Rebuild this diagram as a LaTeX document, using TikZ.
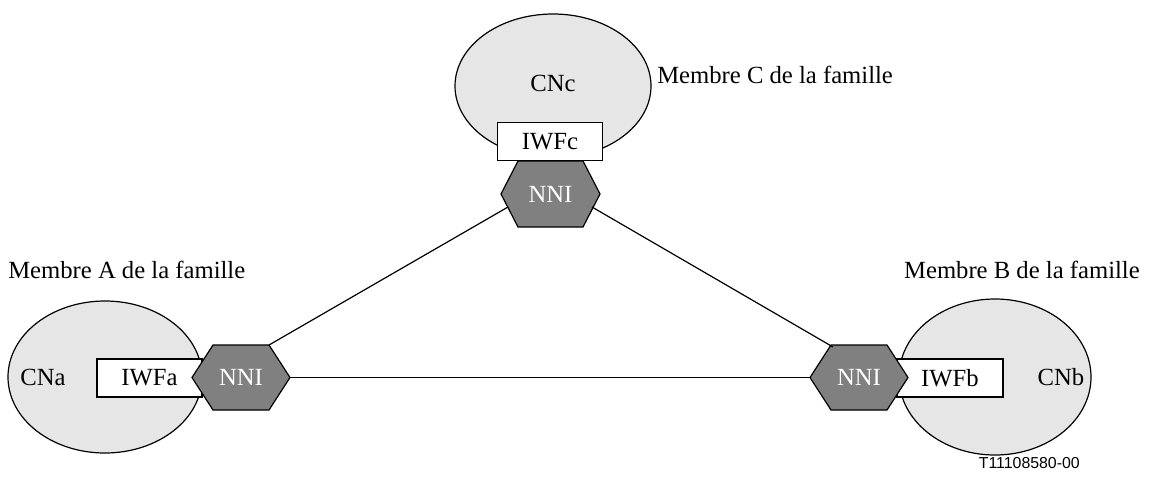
\documentclass[tikz,border=0pt]{standalone}
\usepackage{fontspec}
\setmainfont{Liberation Serif}
\newfontfamily\labsans{Liberation Sans}
\usetikzlibrary{shapes.geometric}
\definecolor{cloudgray}{HTML}{E6E6E6}
\definecolor{hexgray}{HTML}{808080}
\tikzset{
  cloud/.style={draw=black, line width=0.9pt, fill=cloudgray},
  iwf/.style={draw=black, line width=0.9pt, fill=white, minimum width=105*0.75pt, minimum height=38*0.75pt, inner sep=0pt},
  hexa/.style={draw=black, line width=0.9pt, fill=hexgray},
  lnk/.style={draw=black, line width=0.9pt},
  txt/.style={font=\fontsize{18.5}{22}\selectfont, inner sep=0pt},
  wtxt/.style={font=\fontsize{18.5}{22}\selectfont, text=white, inner sep=0pt},
}
\begin{document}
\begin{tikzpicture}[x=0.75pt,y=-0.75pt]
\useasboundingbox (0,0) rectangle (1149,483);
% clouds
\draw[cloud] (553,86) ellipse [x radius=98, y radius=72];
\draw[cloud] (105,377) ellipse [x radius=97, y radius=76];
\draw[cloud] (995,377) ellipse [x radius=96, y radius=78];
\node[txt] (cnc) at (553,83) {CNc};
\node[txt] (cna) at (43,377) {CNa};
\node[txt] (cnb) at (1061,377) {CNb};
% IWF boxes
\node[iwf, txt, minimum width=105*0.75pt, minimum height=38*0.75pt] (iwfc) at (550,141.5) {IWFc};
\node[iwf, txt, minimum width=105*0.75pt, minimum height=38*0.75pt] (iwfa) at (149.5,378) {IWFa};
\node[iwf, txt, minimum width=106*0.75pt, minimum height=38*0.75pt] (iwfb) at (950,378) {IWFb};
% hexagons
\draw[hexa] (501,194) -- (518,161) -- (583,161) -- (600,194) -- (583,227) -- (518,227) -- cycle;
\node[wtxt] (nnic) at (550.5,194) {NNI};
\draw[hexa] (192,377.5) -- (213,345) -- (269,345) -- (290,377.5) -- (269,410) -- (213,410) -- cycle;
\node[wtxt] (nnia) at (241,377.5) {NNI};
\draw[hexa] (810,377.5) -- (831,345) -- (887,345) -- (908,377.5) -- (887,410) -- (831,410) -- cycle;
\node[wtxt] (nnib) at (859,377.5) {NNI};
% links
\coordinate (ca) at (508,207);
\coordinate (cb) at (592,207);
\coordinate (ac) at (269,345);
\coordinate (bc) at (833,347);
\coordinate (ab) at (290,377.5);
\coordinate (ba) at (810,377.5);
\draw[lnk] (ac) -- (ca);
\draw[lnk] (cb) -- (bc);
\draw[lnk] (ab) -- (ba);
% labels
\node[txt, anchor=west] (memc) at (657,75) {Membre C de la famille};
\node[txt, anchor=west] (mema) at (8,270) {Membre A de la famille};
\node[txt, anchor=east] (memb) at (1140,270) {Membre B de la famille};
\node[font=\labsans\fontsize{11.9}{14}\selectfont, inner sep=0pt, anchor=east] (ref) at (1080,463) {T11108580-00};
\end{tikzpicture}
\end{document}
